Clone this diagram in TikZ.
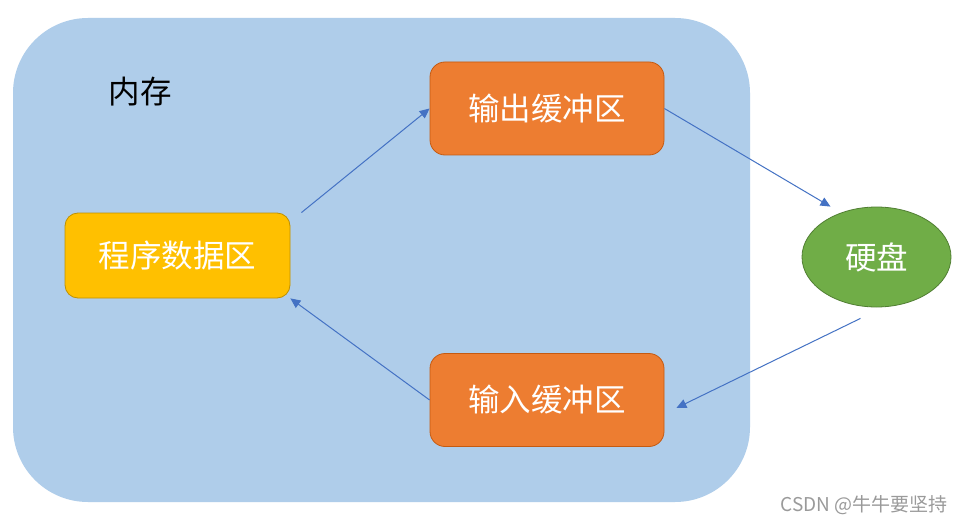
\documentclass[tikz,border=0pt]{standalone}
\usepackage{fontspec}
\newfontfamily\cjk{Noto Sans CJK SC}
\usetikzlibrary{shapes.geometric,arrows.meta}
\definecolor{membg}{HTML}{AFCDEA}
\definecolor{orangefill}{HTML}{ED7D31}
\definecolor{orangeline}{HTML}{C55A11}
\definecolor{yellowfill}{HTML}{FFC000}
\definecolor{yellowline}{HTML}{BF9000}
\definecolor{greenfill}{HTML}{70AD47}
\definecolor{greenline}{HTML}{507E32}
\definecolor{arrowblue}{HTML}{4472C4}
\definecolor{marktext}{HTML}{9A9A9A}
\tikzset{
  lbl/.style={font=\cjk\fontsize{31.5}{36}\selectfont},
  buf/.style={lbl, draw=orangeline, fill=orangefill, line width=0.8pt, rounded corners=15pt,
    minimum width=234pt, minimum height=93pt, text=white, inner sep=0pt},
  prog/.style={lbl, draw=yellowline, fill=yellowfill, line width=0.8pt, rounded corners=13pt,
    minimum width=225pt, minimum height=85pt, text=white, inner sep=0pt},
  disk/.style={lbl, ellipse, draw=greenline, fill=greenfill, line width=0.8pt,
    minimum width=149pt, minimum height=100pt, text=white, inner sep=0pt},
  arr/.style={draw=arrowblue, line width=1pt, -{Triangle[length=10pt,width=9pt]}},
}
\begin{document}
\begin{tikzpicture}[x=1pt,y=-1pt]
\useasboundingbox (0,0) rectangle (964,524);
\fill[white] (0,0) rectangle (964,524);
\node[fill=membg, rounded corners=75pt, minimum width=737pt, minimum height=484pt, inner sep=0pt] (mem) at (381.5,260) {};
\node[lbl, text=black, inner sep=0pt] (memlabel) at (140,92) {内存};
\node[buf] (out) at (547,108.5) {输出缓冲区};
\node[buf] (in) at (547,400) {输入缓冲区};
\node[prog] (pg) at (177.5,255.5) {程序数据区};
\node[disk] (hd) at (876.5,257) {硬盘};
\draw[arr] ([xshift=11pt]pg.north east) -- (out.west);
\draw[arr] (out.east) -- ([xshift=-46pt]hd.north);
\draw[arr] ([xshift=-16pt,yshift=-11pt]hd.south) -- ([xshift=12pt,yshift=-8pt]in.east);
\draw[arr] (in.west) -- (pg.south east);
\node[font=\cjk\fontsize{19}{22}\selectfont, text=marktext, anchor=east, inner sep=0pt] (mark) at (948,505) {CSDN @牛牛要坚持};
\end{tikzpicture}
\end{document}
